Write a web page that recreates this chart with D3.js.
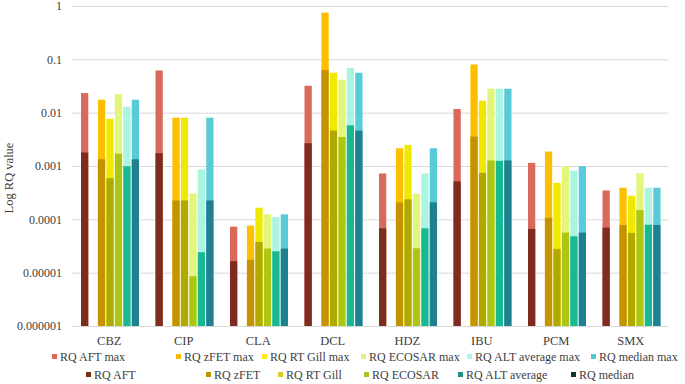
<!DOCTYPE html>
<html>
<head>
<meta charset="utf-8">
<script src="https://cdn.jsdelivr.net/npm/d3@7"></script>
<style>
  body { margin: 0; background: #fff; }
  text { font-family: "Liberation Serif", "Times New Roman", serif; fill: #404040; }
</style>
</head>
<body>
<script>
const categories = ['CBZ', 'CIP', 'CLA', 'DCL', 'HDZ', 'IBU', 'PCM', 'SMX']

// RQ values per substance
const aftMax    = [0.0233, 0.0618, 0.0000729, 0.032, 0.000724, 0.01172, 0.001146, 0.000348]
const aft       = [0.00179, 0.00174, 0.0000164, 0.00267, 0.0000679, 0.000513, 0.000066, 0.0000699]
const zfetMax   = [0.0175, 0.00807, 0.0000762, 0.75, 0.00215, 0.0801, 0.00187, 0.000391]
const zfet      = [0.00134, 0.000226, 0.0000174, 0.0628, 0.000208, 0.00356, 0.000107, 0.0000783]
const gillMax   = [0.0077, 0.00807, 0.000165, 0.056, 0.00249, 0.01676, 0.000484, 0.000277]
const gill      = [0.00059, 0.000226, 0.0000377, 0.00461, 0.000237, 0.000746, 0.0000279, 0.0000556]
const ecosarMax = [0.0223, 0.000306, 0.000124, 0.0414, 0.000302, 0.0281, 0.000993, 0.000734]
const ecosar    = [0.00171, 0.0000086, 0.0000283, 0.00351, 0.0000287, 0.00127, 0.0000563, 0.000149]
const altMax    = [0.0129, 0.00086, 0.000111, 0.0694, 0.000724, 0.0281, 0.000824, 0.000391]
const alt       = [0.00099, 0.0000242, 0.0000252, 0.0058, 0.0000679, 0.00125, 0.0000481, 0.0000793]
const medianMax = [0.0175, 0.00807, 0.000124, 0.056, 0.00215, 0.0281, 0.000993, 0.000391]
const median    = [0.00134, 0.000226, 0.0000283, 0.00461, 0.000208, 0.00127, 0.0000563, 0.0000783]

const tickValues = [1, 0.1, 0.01, 0.001, 0.0001, 0.00001, 0.000001]
const tickLabels = ['1', '0.1', '0.01', '0.001', '0.0001', '0.00001', '0.000001']

// bar slots inside a category; the second one stays empty
const slots = ['AFT', 'gap', 'zFET', 'RT Gill', 'ECOSAR', 'ALT average', 'median']

const series = [
  { slot: 'AFT',         max: aftMax,    base: aft,    maxColor: '#d9695a', baseColor: '#7e2b20', legMax: '#e06858', legBase: '#7a2e0a' },
  { slot: 'zFET',        max: zfetMax,   base: zfet,   maxColor: '#fdbf00', baseColor: '#c49400', legMax: '#ffb800', legBase: '#c09000' },
  { slot: 'RT Gill',     max: gillMax,   base: gill,   maxColor: '#f0e800', baseColor: '#b0aa00', legMax: '#f8f000', legBase: '#d8d020' },
  { slot: 'ECOSAR',      max: ecosarMax, base: ecosar, maxColor: '#e2f77a', baseColor: '#adc614', legMax: '#e0f080', legBase: '#b0c020' },
  { slot: 'ALT average', max: altMax,    base: alt,    maxColor: '#aaf5e0', baseColor: '#18b890', legMax: '#b0f5e0', legBase: '#209080' },
  { slot: 'median',      max: medianMax, base: median, maxColor: '#58cad8', baseColor: '#1f8090', legMax: '#50c8d8', legBase: '#0a3a30' },
]

const width = 685
const height = 384
const plotLeft = 72
const plotRight = 668
const plotTop = 6
const plotBottom = 326
const serif = '"Liberation Serif", "Times New Roman", serif'

const svg = d3.select('body').append('svg').attr('width', width).attr('height', height)

const y = d3.scaleLog().domain([0.000001, 1]).range([plotBottom, plotTop])
const x = d3.scaleBand().domain(categories).range([plotLeft, plotRight])
const xs = d3.scaleBand().domain(slots).range([9, x.bandwidth() - 7.5]).paddingInner(0.14)

// gridlines + y labels
const axisY = d3.axisLeft(y)
  .tickValues(tickValues)
  .tickSize(-(plotRight - plotLeft))
  .tickPadding(10)
  .tickFormat((d, i) => tickLabels[i])

const gy = svg.append('g').attr('transform', 'translate(' + plotLeft + ',0)').call(axisY)
  .attr('font-family', serif).attr('font-size', 12)
gy.select('.domain').remove()
gy.selectAll('line').attr('stroke', '#d9d9d9')
gy.selectAll('text').attr('fill', '#404040')

// bars: max behind, base in front
series.forEach(s => {
  const g = svg.append('g')
  g.selectAll('.max').data(categories).enter().append('rect')
    .attr('x', (d, i) => x(d) + xs(s.slot))
    .attr('width', xs.bandwidth())
    .attr('y', (d, i) => y(s.max[i]))
    .attr('height', (d, i) => plotBottom - y(s.max[i]))
    .attr('fill', s.maxColor)
  g.selectAll('.base').data(categories).enter().append('rect')
    .attr('x', (d, i) => x(d) + xs(s.slot))
    .attr('width', xs.bandwidth())
    .attr('y', (d, i) => y(s.base[i]))
    .attr('height', (d, i) => plotBottom - y(s.base[i]))
    .attr('fill', s.baseColor)
})

// category labels
const axisX = d3.axisBottom(x).tickSize(0).tickPadding(10)
const gx = svg.append('g').attr('transform', 'translate(0,' + plotBottom + ')').call(axisX)
  .attr('font-family', serif).attr('font-size', 12.5)
gx.select('.domain').remove()
gx.selectAll('text').attr('fill', '#404040')

// y title
svg.append('text')
  .attr('transform', 'translate(13,' + 178 + ') rotate(-90)')
  .attr('text-anchor', 'middle')
  .attr('font-family', serif)
  .style('font-size', '12.5px')
  .text('Log RQ value')

// legend
const legRow1X = [52, 176, 262, 361, 467, 591]
const legRow2X = [86, 206, 278, 364, 458, 571]
const rows = [
  { y: 357, xs: legRow1X, label: s => 'RQ ' + s.slot + ' max', color: s => s.legMax },
  { y: 375, xs: legRow2X, label: s => 'RQ ' + s.slot, color: s => s.legBase },
]
rows.forEach(r => {
  const items = svg.append('g').attr('font-family', serif).attr('font-size', 12)
    .selectAll('g').data(series).enter().append('g')
    .attr('transform', (d, i) => 'translate(' + r.xs[i] + ',' + r.y + ')')
  items.append('rect').attr('x', 0).attr('y', -3).attr('width', 5).attr('height', 5).attr('fill', r.color)
  items.append('text').attr('x', 8).attr('dy', '0.35em').text(r.label)
})
</script>
</body>
</html>
